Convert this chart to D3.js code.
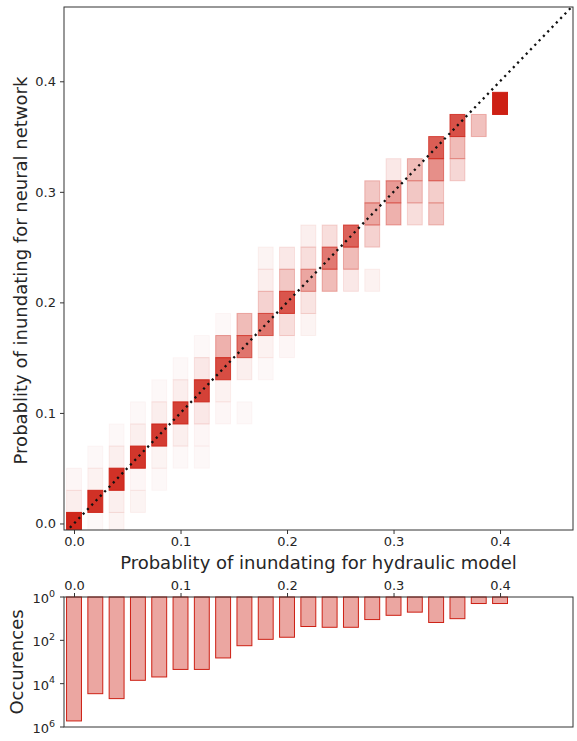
<!DOCTYPE html>
<html>
<head>
<meta charset="utf-8">
<script src="https://cdn.jsdelivr.net/npm/d3@7"></script>
<style>
  body { margin: 0; background: #fff; }
  text { font-family: "DejaVu Sans", sans-serif; fill: #262626; }
</style>
</head>
<body>
<svg id="chart" width="577" height="741"></svg>
<script>
// Bin centres of the hydraulic-model probability (x) shared by both panels
const binCenters = [0.00, 0.02, 0.04, 0.06, 0.08, 0.10, 0.12, 0.14, 0.16, 0.18, 0.20,
                    0.22, 0.24, 0.26, 0.28, 0.30, 0.32, 0.34, 0.36, 0.38, 0.40];

// Number of occurrences per hydraulic-model bin (log scale, lower panel)
const occurrences = [525000, 29000, 49000, 7000, 4900, 2200, 2200, 650, 177, 90, 72,
                     23, 25, 25, 11, 7, 5, 15, 10, 2, 2];

// Joint-distribution cells: hydraulic bin (x), neural-network bin (y), shade (share)
const heatX = [
  0.00, 0.00, 0.00,
  0.02, 0.02, 0.02, 0.02,
  0.04, 0.04, 0.04, 0.04, 0.04,
  0.06, 0.06, 0.06, 0.06, 0.06,
  0.08, 0.08, 0.08, 0.08, 0.08,
  0.10, 0.10, 0.10, 0.10, 0.10,
  0.12, 0.12, 0.12, 0.12, 0.12, 0.12,
  0.14, 0.14, 0.14, 0.14, 0.14,
  0.16, 0.16, 0.16, 0.16,
  0.18, 0.18, 0.18, 0.18, 0.18, 0.18,
  0.20, 0.20, 0.20, 0.20, 0.20,
  0.22, 0.22, 0.22, 0.22, 0.22,
  0.24, 0.24, 0.24,
  0.26, 0.26, 0.26,
  0.28, 0.28, 0.28, 0.28,
  0.30, 0.30, 0.30,
  0.32, 0.32, 0.32,
  0.34, 0.34, 0.34, 0.34,
  0.36, 0.36, 0.36,
  0.38,
  0.40
];
const heatY = [
  0.00, 0.02, 0.04,
  0.00, 0.02, 0.04, 0.06,
  0.00, 0.02, 0.04, 0.06, 0.08,
  0.02, 0.04, 0.06, 0.08, 0.10,
  0.04, 0.06, 0.08, 0.10, 0.12,
  0.06, 0.08, 0.10, 0.12, 0.14,
  0.06, 0.08, 0.10, 0.12, 0.14, 0.16,
  0.10, 0.12, 0.14, 0.16, 0.18,
  0.10, 0.14, 0.16, 0.18,
  0.14, 0.16, 0.18, 0.20, 0.22, 0.24,
  0.16, 0.18, 0.20, 0.22, 0.24,
  0.18, 0.20, 0.22, 0.24, 0.26,
  0.22, 0.24, 0.26,
  0.22, 0.24, 0.26,
  0.22, 0.26, 0.28, 0.30,
  0.28, 0.30, 0.32,
  0.28, 0.30, 0.32,
  0.28, 0.30, 0.32, 0.34,
  0.32, 0.34, 0.36,
  0.36,
  0.38
];
const heatShade = [
  0.97, 0.08, 0.04,
  0.03, 0.92, 0.06, 0.03,
  0.05, 0.07, 0.92, 0.07, 0.03,
  0.05, 0.04, 0.90, 0.07, 0.03,
  0.03, 0.05, 0.88, 0.08, 0.03,
  0.03, 0.07, 0.85, 0.08, 0.03,
  0.03, 0.04, 0.10, 0.85, 0.10, 0.03,
  0.04, 0.06, 0.80, 0.35, 0.03,
  0.03, 0.07, 0.62, 0.30,
  0.03, 0.06, 0.62, 0.20, 0.08, 0.05,
  0.04, 0.15, 0.76, 0.25, 0.10,
  0.05, 0.12, 0.40, 0.15, 0.07,
  0.30, 0.60, 0.15,
  0.10, 0.30, 0.70,
  0.06, 0.20, 0.40, 0.25,
  0.35, 0.45, 0.10,
  0.15, 0.25, 0.30,
  0.25, 0.22, 0.50, 0.72,
  0.18, 0.30, 0.78,
  0.28,
  1.00
];

const probTicks = [0.0, 0.1, 0.2, 0.3, 0.4];
const countTicks = [1, 1e2, 1e4, 1e6];
const countExponents = ["0", "2", "4", "6"];

const RED = "rgb(205,32,20)";
const TICK_FONT = 13;
const svg = d3.select("#chart");

// Panel boxes
const topBox = { l: 64, r: 573, t: 7, b: 530 };
const botBox = { l: 64, r: 573, t: 597, b: 727 };

const x = d3.scaleLinear().domain([-0.0094, 0.4685]).range([topBox.l, topBox.r]);
const y = d3.scaleLinear().domain([-0.0059, 0.4672]).range([topBox.b, topBox.t]);
const yc = d3.scaleLog().domain([1, 1e6]).range([botBox.t, botBox.b]);

const cellW = 0.014, cellH = 0.02;

// ---------- upper panel: joint histogram ----------
svg.append("clipPath").attr("id", "clipTop")
  .append("rect").attr("x", topBox.l).attr("y", topBox.t)
  .attr("width", topBox.r - topBox.l).attr("height", topBox.b - topBox.t);

const plot = svg.append("g").attr("clip-path", "url(#clipTop)");

plot.selectAll("rect.cell")
  .data(d3.range(heatX.length))
  .join("rect")
  .attr("class", "cell")
  .attr("x", i => x(heatX[i] - cellW / 2))
  .attr("y", i => y(heatY[i] + cellH / 2))
  .attr("width", x(cellW) - x(0))
  .attr("height", y(0) - y(cellH))
  .attr("fill", RED)
  .attr("fill-opacity", i => heatShade[i])
  .attr("stroke", RED)
  .attr("stroke-opacity", i => heatShade[i])
  .attr("stroke-width", 1);

// 1:1 reference line
plot.append("line")
  .attr("x1", x(-0.02)).attr("y1", y(-0.02))
  .attr("x2", x(0.5)).attr("y2", y(0.5))
  .attr("stroke", "#111")
  .attr("stroke-width", 2.3)
  .attr("stroke-dasharray", "2.2 4");

const topXAxis = d3.axisBottom(x).tickValues(probTicks).tickFormat(d3.format(".1f"))
  .tickSize(4).tickPadding(3);
const gx = svg.append("g").attr("transform", `translate(0,${topBox.b})`).call(topXAxis);

const topYAxis = d3.axisLeft(y).tickValues(probTicks).tickFormat(d3.format(".1f"))
  .tickSize(4).tickPadding(4);
const gy = svg.append("g").attr("transform", `translate(${topBox.l},0)`).call(topYAxis);

[gx, gy].forEach(g => {
  g.select(".domain").remove();
  g.selectAll(".tick line").attr("stroke", "#333");
  g.selectAll(".tick text").attr("font-size", TICK_FONT).attr("font-family", "DejaVu Sans").attr("fill", "#262626");
});

svg.append("rect")
  .attr("x", topBox.l).attr("y", topBox.t)
  .attr("width", topBox.r - topBox.l).attr("height", topBox.b - topBox.t)
  .attr("fill", "none").attr("stroke", "#333").attr("stroke-width", 1);

svg.append("text")
  .attr("x", (topBox.l + topBox.r) / 2).attr("y", 569)
  .attr("text-anchor", "middle")
  .attr("font-size", 18)
  .text("Probablity of inundating for hydraulic model");

svg.append("text")
  .attr("transform", `translate(27,${(topBox.t + topBox.b) / 2 + 2}) rotate(-90)`)
  .attr("text-anchor", "middle")
  .attr("font-size", 18)
  .text("Probablity of inundating for neural network");

// ---------- lower panel: occurrences per bin ----------
svg.selectAll("rect.bar")
  .data(d3.range(binCenters.length))
  .join("rect")
  .attr("class", "bar")
  .attr("x", i => x(binCenters[i] - cellW / 2))
  .attr("y", yc(1))
  .attr("width", x(cellW) - x(0))
  .attr("height", i => yc(occurrences[i]) - yc(1))
  .attr("fill", RED)
  .attr("fill-opacity", 0.4)
  .attr("stroke", RED)
  .attr("stroke-width", 1);

const botXAxis = d3.axisTop(x).tickValues(probTicks).tickFormat(d3.format(".1f"))
  .tickSize(4).tickPadding(3);
const gbx = svg.append("g").attr("transform", `translate(0,${botBox.t})`).call(botXAxis);
gbx.select(".domain").remove();
gbx.selectAll(".tick line").attr("stroke", "#333");
gbx.selectAll(".tick text").attr("font-size", TICK_FONT).attr("font-family", "DejaVu Sans").attr("fill", "#262626");

const gby = svg.append("g");
countTicks.forEach((v, i) => {
  const ty = yc(v);
  gby.append("line")
    .attr("x1", botBox.l - 4).attr("x2", botBox.l)
    .attr("y1", ty).attr("y2", ty)
    .attr("stroke", "#333");
  const t = gby.append("text")
    .attr("x", botBox.l - 9).attr("y", ty + 6)
    .attr("text-anchor", "end")
    .attr("font-size", TICK_FONT);
  t.append("tspan").text("10");
  t.append("tspan").attr("font-size", 9.5).attr("dy", -6.5).text(countExponents[i]);
});

svg.append("rect")
  .attr("x", botBox.l).attr("y", botBox.t)
  .attr("width", botBox.r - botBox.l).attr("height", botBox.b - botBox.t)
  .attr("fill", "none").attr("stroke", "#333").attr("stroke-width", 1);

svg.append("text")
  .attr("transform", `translate(23,${(botBox.t + botBox.b) / 2}) rotate(-90)`)
  .attr("text-anchor", "middle")
  .attr("font-size", 18)
  .text("Occurences");
</script>
</body>
</html>
